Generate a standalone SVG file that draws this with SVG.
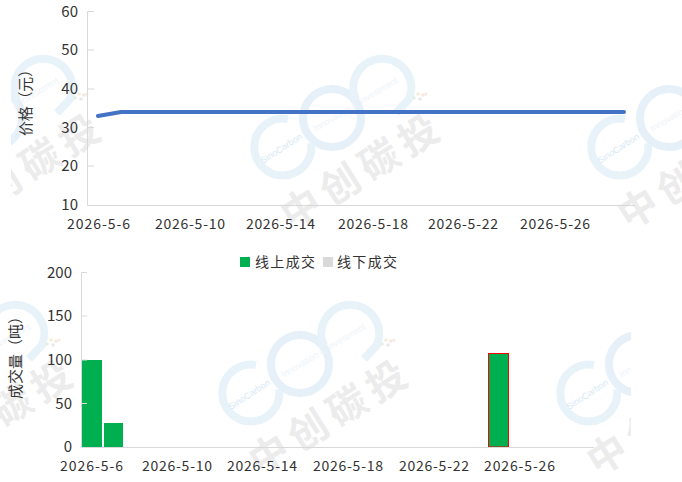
<svg xmlns="http://www.w3.org/2000/svg" xmlns:xlink="http://www.w3.org/1999/xlink" width="682" height="482" viewBox="0 0 682 482">
<style>
text{font-family:"Noto Sans CJK SC","Liberation Sans",sans-serif;fill:#333}
.t{font-size:14px}
.y{font-size:15px;text-anchor:end}
.ti{font-size:15px;text-anchor:middle}
.ax{stroke:#d9d9d9;stroke-width:1;fill:none}
.r1{fill:none;stroke:#e8f3f9;stroke-width:8}
.r2{fill:none;stroke:#e6f0f8;stroke-width:8}
.wm{font-size:39px;font-weight:700;fill:#ececec;text-anchor:middle;letter-spacing:7px}
.s1{font-family:"Liberation Sans",sans-serif;font-size:9px;fill:#d8e9f4;text-anchor:middle}
.s2{font-family:"Liberation Sans",sans-serif;font-size:9px;fill:#eef4f9;text-anchor:middle}
</style>
<defs>
<clipPath id="cTop"><rect x="11" y="0" width="671" height="240"/></clipPath>
<clipPath id="cBot"><rect x="0" y="240" width="631" height="242"/></clipPath>
<g id="mark">
<path class="r1" d="M288 119A28.500 28.500 0 1 0 311 143"/>
<circle class="r2" cx="332" cy="118" r="29"/>
<path class="r1" d="M356 100A29 29 0 1 1 409 99L396 113"/>
<text class="s1" transform="translate(283 151) rotate(-33)">SinoCarbon</text>
<text class="s2" transform="translate(357 107) rotate(-31)">Innovation &amp; Investment</text>
<circle cx="414" cy="98" r="1.800" fill="#e6efe6"/><circle cx="418" cy="94" r="1.800" fill="#f7eeda"/><circle cx="420" cy="99" r="1.800" fill="#ece6ef"/><circle cx="423" cy="95" r="1.800" fill="#f8e6e0"/><circle cx="426" cy="94" r="1.600" fill="#f6ecd9"/>
<text class="wm" transform="translate(370 182) rotate(-32)">中创碳投</text>
</g>
</defs>
<rect width="682" height="482" fill="#fff"/>
<g id="watermarks-top" clip-path="url(#cTop)">
<use href="#mark" x="-339" y="0"/>
<use href="#mark" x="0" y="0"/>
<use href="#mark" x="337" y="0"/>
</g>
<g id="watermarks-bottom" clip-path="url(#cBot)">
<use href="#mark" x="-367" y="246"/>
<use href="#mark" x="-32" y="246"/>
<use href="#mark" x="306" y="246"/>
</g>
<g id="price-chart">
<path class="ax" d="M87.500 11.500V205.500M87.500 11.500H94M87.500 50H94M87.500 89H94M87.500 127.500H94M87.500 166H94M87.500 205.500H635"/>
<path d="M98 116L121 112H624" fill="none" stroke="#4472c4" stroke-width="4" stroke-linecap="round" stroke-linejoin="round"/>
<text class="y" x="78" y="17">60</text>
<text class="y" x="78" y="55">50</text>
<text class="y" x="78" y="94">40</text>
<text class="y" x="78" y="133">30</text>
<text class="y" x="78" y="171">20</text>
<text class="y" x="78" y="210">10</text>
<text class="ti" transform="translate(31 99) rotate(-90)" textLength="74" lengthAdjust="spacing">价格（元）</text>
<text class="t" x="67" y="229" textLength="63" lengthAdjust="spacing">2026-5-6</text>
<text class="t" x="155" y="229" textLength="70" lengthAdjust="spacing">2026-5-10</text>
<text class="t" x="246" y="229" textLength="69" lengthAdjust="spacing">2026-5-14</text>
<text class="t" x="338" y="229" textLength="70" lengthAdjust="spacing">2026-5-18</text>
<text class="t" x="428" y="229" textLength="70" lengthAdjust="spacing">2026-5-22</text>
<text class="t" x="520" y="229" textLength="70" lengthAdjust="spacing">2026-5-26</text>
</g>
<g id="volume-chart">
<rect x="82" y="360" width="20" height="87" fill="#00b050"/>
<rect x="104" y="423" width="19" height="24" fill="#00b050"/>
<rect x="488.500" y="353.500" width="20" height="93.500" fill="#00b050" stroke="#ff0000" stroke-width="1"/>
<path class="ax" d="M81.500 272.500V447.500M81.500 272.500H87M81.500 316H87M81.500 360H87M81.500 403.500H87M81.500 447.500H594"/>
<text class="y" x="72" y="278">200</text>
<text class="y" x="72" y="321">150</text>
<text class="y" x="72" y="365">100</text>
<text class="y" x="72" y="409">50</text>
<text class="y" x="72" y="452">0</text>
<text class="ti" transform="translate(21 354) rotate(-90)">成交量（吨）</text>
<text class="t" x="60" y="471" textLength="63" lengthAdjust="spacing">2026-5-6</text>
<text class="t" x="142" y="471" textLength="70" lengthAdjust="spacing">2026-5-10</text>
<text class="t" x="227" y="471" textLength="70" lengthAdjust="spacing">2026-5-14</text>
<text class="t" x="313" y="471" textLength="70" lengthAdjust="spacing">2026-5-18</text>
<text class="t" x="399" y="471" textLength="70" lengthAdjust="spacing">2026-5-22</text>
<text class="t" x="484" y="471" textLength="71" lengthAdjust="spacing">2026-5-26</text>
</g>
<g id="legend">
<rect x="240" y="257" width="10" height="10" fill="#00b050"/>
<text class="t" x="255" y="267" textLength="60" lengthAdjust="spacing">线上成交</text>
<rect x="323" y="257" width="10" height="10" fill="#d9d9d9"/>
<text class="t" x="337" y="267" textLength="60" lengthAdjust="spacing">线下成交</text>
</g>
</svg>
